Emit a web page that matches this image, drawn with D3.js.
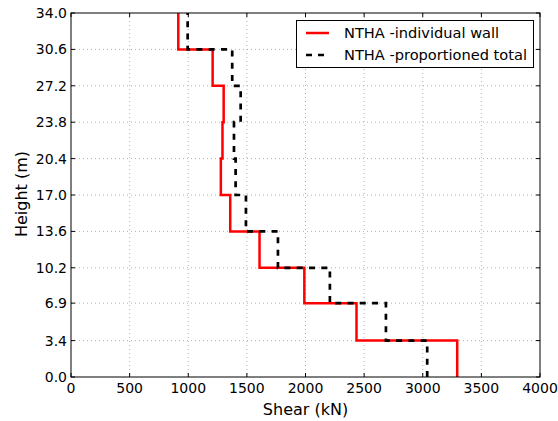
<!DOCTYPE html>
<html><head><meta charset="utf-8">
<script src="https://cdn.jsdelivr.net/npm/d3@7"></script>
<style>body{margin:0;background:#fff}svg{display:block}text{font-family:"DejaVu Sans",sans-serif;fill:#000}</style>
</head><body>
<svg id="c" width="558" height="421"></svg>
<script>
// Story boundaries (m)
const levels = [0.0, 3.4, 6.9, 10.2, 13.6, 17.0, 20.4, 23.8, 27.2, 30.6, 34.0];
// Shear per story (kN), story 1 (bottom) to story 10 (top)
const individualWall = [3294, 2435, 1990, 1608, 1358, 1278, 1292, 1302, 1208, 915];
const proportionedTotal = [3038, 2686, 2208, 1765, 1492, 1404, 1390, 1447, 1375, 995];
const xTicks = [0, 500, 1000, 1500, 2000, 2500, 3000, 3500, 4000];
const yTickLabels = ["0.0","3.4","6.9","10.2","13.6","17.0","20.4","23.8","27.2","30.6","34.0"];

const svg = d3.select("#c");
const m = {l:71, r:540, t:13, b:377};
const x = d3.scaleLinear().domain([0,4000]).range([m.l, m.r]);
const y = d3.scaleLinear().domain([0,34]).range([m.b, m.t]);

// grid
const g = svg.append("g");
g.selectAll(".gx").data(xTicks.slice(1,-1)).join("line")
  .attr("x1",d=>x(d)).attr("x2",d=>x(d)).attr("y1",m.t).attr("y2",m.b)
  .attr("stroke","#b0b0b0").attr("stroke-width",1).attr("stroke-dasharray","1,3");
g.selectAll(".gy").data(levels.slice(1,-1)).join("line")
  .attr("y1",d=>y(d)).attr("y2",d=>y(d)).attr("x1",m.l).attr("x2",m.r)
  .attr("stroke","#b0b0b0").attr("stroke-width",1).attr("stroke-dasharray","1,3");

// step path from bottom to top
function stepPts(vals){
  const pts=[];
  for(let i=0;i<vals.length;i++){
    pts.push([vals[i], levels[i]]);
    pts.push([vals[i], levels[i+1]]);
  }
  return pts;
}
const line = d3.line().x(d=>x(d[0])).y(d=>y(d[1]));
svg.append("clipPath").attr("id","cp").append("rect")
  .attr("x",m.l).attr("y",m.t).attr("width",m.r-m.l).attr("height",m.b-m.t);
svg.append("path").attr("d",line(stepPts(individualWall))).attr("fill","none")
  .attr("stroke","#ff0000").attr("stroke-width",2.5).attr("clip-path","url(#cp)");
svg.append("path").attr("d",line(stepPts(proportionedTotal))).attr("fill","none")
  .attr("stroke","#000").attr("stroke-width",2.7).attr("stroke-dasharray","6,6.3").attr("clip-path","url(#cp)");

// axes frame
svg.append("rect").attr("x",m.l).attr("y",m.t).attr("width",m.r-m.l).attr("height",m.b-m.t)
  .attr("fill","none").attr("stroke","#000").attr("stroke-width",1);

// ticks
const tl=4;
xTicks.forEach(d=>{
  svg.append("line").attr("x1",x(d)).attr("x2",x(d)).attr("y1",m.b).attr("y2",m.b-tl).attr("stroke","#000");
  svg.append("line").attr("x1",x(d)).attr("x2",x(d)).attr("y1",m.t).attr("y2",m.t+tl).attr("stroke","#000");
  svg.append("text").attr("x",x(d)).attr("y",m.b+16).attr("text-anchor","middle").attr("font-size",14).text(d);
});
levels.forEach((d,i)=>{
  svg.append("line").attr("y1",y(d)).attr("y2",y(d)).attr("x1",m.l).attr("x2",m.l+tl).attr("stroke","#000");
  svg.append("line").attr("y1",y(d)).attr("y2",y(d)).attr("x1",m.r).attr("x2",m.r-tl).attr("stroke","#000");
  svg.append("text").attr("x",m.l-4).attr("y",y(d)).attr("dy","0.36em").attr("text-anchor","end").attr("font-size",14).text(yTickLabels[i]);
});

svg.append("text").attr("x",(m.l+m.r)/2).attr("y",415).attr("text-anchor","middle").attr("font-size",16).text("Shear (kN)");
svg.append("text").attr("transform",`translate(27,194) rotate(-90)`).attr("text-anchor","middle").attr("font-size",16).text("Height (m)");

// legend
const lg = svg.append("g");
lg.append("rect").attr("x",296.5).attr("y",20.5).attr("width",237).attr("height",47).attr("fill","#fff").attr("stroke","#000");
lg.append("line").attr("x1",306).attr("x2",329).attr("y1",33).attr("y2",33).attr("stroke","#ff0000").attr("stroke-width",2.5);
lg.append("line").attr("x1",306).attr("x2",330).attr("y1",55).attr("y2",55).attr("stroke","#000").attr("stroke-width",2.7).attr("stroke-dasharray","6,6");
lg.append("text").attr("x",344).attr("y",33).attr("dy","0.36em").attr("font-size",14.6).text("NTHA -individual wall");
lg.append("text").attr("x",344).attr("y",55).attr("dy","0.36em").attr("font-size",14.6).text("NTHA -proportioned total");
</script>
</body></html>
